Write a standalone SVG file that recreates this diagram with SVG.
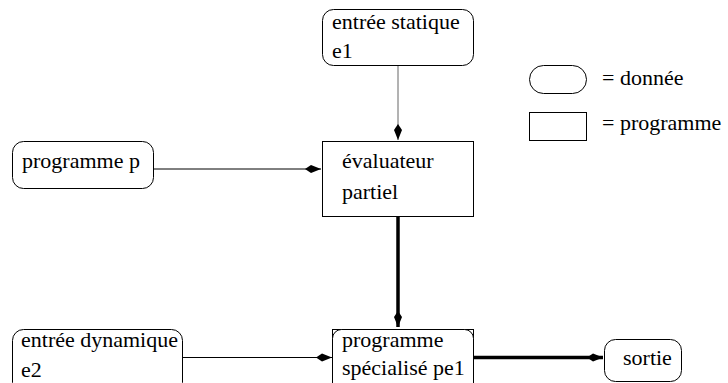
<svg xmlns="http://www.w3.org/2000/svg" width="728" height="383" viewBox="0 0 728 383">
<style>
text{font-family:"Liberation Serif",serif;font-size:22px;fill:#000}
.d{fill:#fff;stroke:#000;stroke-width:1}
.p{fill:#fff;stroke:#000;stroke-width:1}
.thin{stroke:#000;stroke-width:1;fill:none}
.gray{stroke:#666;stroke-width:1;fill:none}
.thick{stroke:#000;stroke-width:3.5;fill:none}
</style>
<defs>
<marker id="ah" viewBox="0 0 16 10" refX="16" refY="5" markerWidth="16" markerHeight="10" markerUnits="userSpaceOnUse" orient="auto">
<path d="M0,5 L6,1 L16,5 L6,9 Z" fill="#000"/>
</marker>
</defs>
<rect width="728" height="383" fill="#fff"/>
<g id="connectors">
<line x1="398" y1="65" x2="398" y2="140" class="gray" marker-end="url(#ah)"/>
<line x1="153" y1="169" x2="321" y2="169" class="thin" marker-end="url(#ah)"/>
<line x1="398" y1="216" x2="398" y2="327" class="thick" marker-end="url(#ah)"/>
<line x1="182" y1="357.5" x2="332" y2="357.5" class="thin" marker-end="url(#ah)"/>
<line x1="474" y1="357.5" x2="603" y2="357.5" class="thick" marker-end="url(#ah)"/>
</g>
<g id="entree-statique">
<rect x="322.5" y="9.5" width="151" height="56" rx="11" class="d"/>
<text x="332" y="29">entr&#233;e statique</text>
<text x="332" y="58">e1</text>
</g>
<g id="evaluateur">
<rect x="322.5" y="141.5" width="151" height="75" class="p"/>
<text x="342" y="168">&#233;valuateur</text>
<text x="342" y="199">partiel</text>
</g>
<g id="programme-p">
<rect x="12.5" y="141.5" width="141" height="47" rx="11" class="d"/>
<text x="22" y="168">programme p</text>
</g>
<g id="entree-dynamique">
<rect x="12.5" y="329.5" width="170" height="64" rx="11" class="d"/>
<text x="21" y="347">entr&#233;e dynamique</text>
<text x="21" y="377">e2</text>
</g>
<g id="programme-specialise">
<rect x="332.5" y="329.5" width="141" height="64" class="p"/>
<rect x="332.5" y="329.5" width="141" height="64" rx="9" class="d"/>
<text x="342" y="347">programme</text>
<text x="342" y="375">sp&#233;cialis&#233; pe1</text>
</g>
<g id="sortie">
<rect x="604.5" y="339.5" width="77" height="42" rx="11" class="d"/>
<text x="623" y="365">sortie</text>
</g>
<g id="legend-donnee">
<rect x="529.5" y="65.5" width="57" height="28" rx="14" class="d"/>
<text x="602" y="85">= donn&#233;e</text>
</g>
<g id="legend-programme">
<rect x="529.5" y="112.5" width="57" height="28" class="p"/>
<text x="602" y="130">= programme</text>
</g>
</svg>
